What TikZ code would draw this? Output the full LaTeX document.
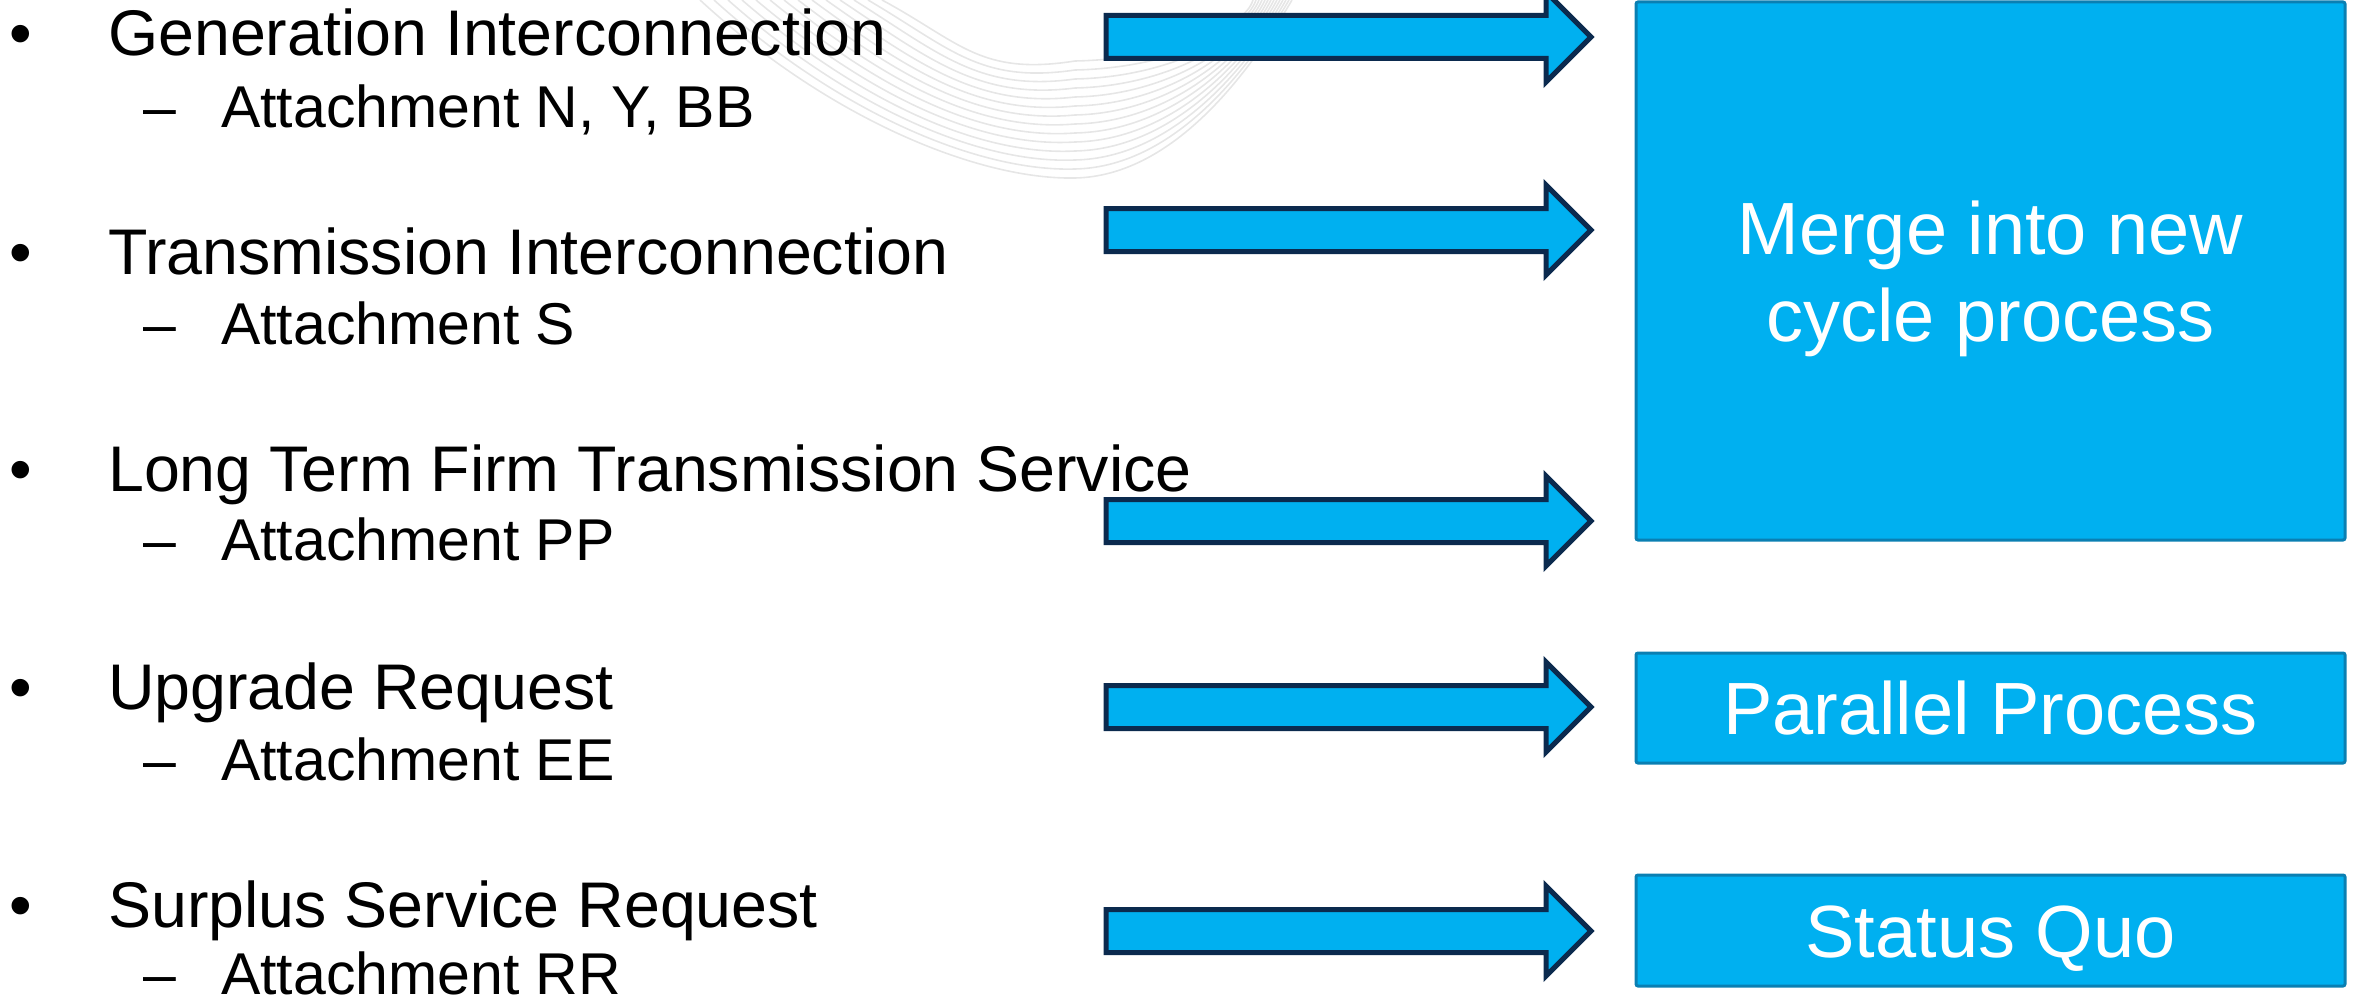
\documentclass[tikz,border=0pt]{standalone}
\usepackage{fontspec}
\setmainfont{Liberation Sans}
\definecolor{cyanfill}{HTML}{00B0F0}
\definecolor{boxedge}{HTML}{0A7FB2}
\definecolor{navy}{HTML}{0B2A4E}
\definecolor{swooshgray}{HTML}{E6E6E6}
\tikzset{
  mainitem/.style={anchor=base west, inner sep=0pt, font=\fontsize{64.5}{77}\selectfont},
  subitem/.style={anchor=base west, inner sep=0pt, font=\fontsize{59}{70}\selectfont},
  bulletmark/.style={anchor=base, inner sep=0pt, font=\fontsize{64.5}{77}\selectfont},
  dashmark/.style={anchor=base, inner sep=0pt, font=\fontsize{59}{70}\selectfont},
  outcome/.style={draw=boxedge, line width=3pt, fill=cyanfill, rounded corners=2pt,
    minimum width=709pt, inner sep=0pt},
  boxtext/.style={anchor=base, inner sep=0pt, text=white, font=\fontsize{74}{87}\selectfont},
  arrowshape/.style={draw=navy, line width=5pt, fill=cyanfill, line join=miter},
  swoosh/.style={draw=swooshgray, line width=1.6pt},
}
\begin{document}
\begin{tikzpicture}[x=1pt,y=-1pt]
\useasboundingbox (0,0) rectangle (2354,998);

% faint decorative swoosh behind the list
\begin{scope}
  \clip (0,0) rectangle (2354,998);
  \foreach \i in {0,...,13} {
    \draw[swoosh] (700+14*\i,0)
      .. controls (830+10*\i,120-6*\i) and (980,180-8*\i) .. (1075,178-9*\i)
      .. controls (1170,176-9*\i) and (1245,80-4*\i) .. (1292-3*\i,0);
  }
\end{scope}

% outcome boxes
\node[outcome, minimum height=538pt] (merge) at (1990.5,271) {};
\node[outcome, minimum height=110pt] (parallel) at (1990.5,708) {};
\node[outcome, minimum height=111pt] (status) at (1990.5,930.5) {};

\node[boxtext] (mergeA) at ([yshift=17pt]merge.center) {Merge into new};
\node[boxtext] (mergeB) at ([yshift=-70pt]merge.center) {cycle process};
\node[boxtext] (parallelT) at ([yshift=-26.5pt]parallel.center) {Parallel Process};
\node[boxtext] (statusT) at ([yshift=-26.5pt]status.center) {Status Quo};

% block arrows
\begin{scope}
  \clip (0,0) rectangle (2354,998);
  \foreach \yc/\nm in {37/a1,230/a2,521/a3,707/a4,931/a5} {
    \coordinate (\nm) at (1106,\yc);
    \draw[arrowshape, shift={(\nm)}]
      (0,-21.5) -- (440,-21.5) -- (440,-45) -- (485,0) -- (440,45) -- (440,21.5) -- (0,21.5) -- cycle;
  }
\end{scope}

% request list
\node[bulletmark] (b1) at (21,56) {•};
\node[mainitem] (gen) at (108,56) {Generation Interconnection};
\node[dashmark] (d1) at (160,128) {–};
\node[subitem] (gena) at (221,128) {Attachment N, Y, BB};

\node[bulletmark] (b2) at (21,274) {•};
\node[mainitem] (trans) at (108,274) {Transmission Interconnection};
\node[dashmark] (d2) at (160,344) {–};
\node[subitem] (transa) at (221,344) {Attachment S};

\node[bulletmark] (b3) at (21,491) {•};
\node[mainitem] (ltf) at (108,491) {Long Term Firm Transmission Service};
\node[dashmark] (d3) at (160,560) {–};
\node[subitem] (ltfa) at (221,560) {Attachment PP};

\node[bulletmark] (b4) at (21,709) {•};
\node[mainitem] (upg) at (108,709) {Upgrade Request};
\node[dashmark] (d4) at (160,780) {–};
\node[subitem] (upga) at (221,780) {Attachment EE};

\node[bulletmark] (b5) at (21,927) {•};
\node[mainitem] (sur) at (108,927) {Surplus Service Request};
\node[dashmark] (d5) at (160,994) {–};
\node[subitem] (sura) at (221,994) {Attachment RR};
\end{tikzpicture}
\end{document}
